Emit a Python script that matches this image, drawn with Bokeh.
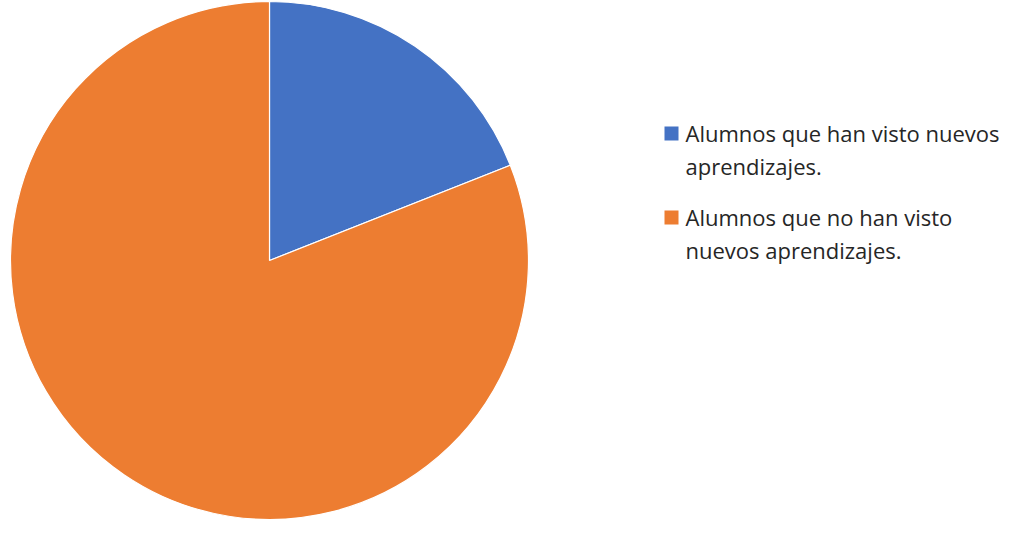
import math
from bokeh.plotting import figure
from bokeh.models import Range1d, ColumnDataSource
from bokeh.core.properties import value
from bokeh.embed import file_html
from bokeh.resources import INLINE

# Data
labels = ["Alumnos que han visto nuevos aprendizajes.",
          "Alumnos que no han visto nuevos aprendizajes."]
legend_lines = [["Alumnos que han visto nuevos", "aprendizajes."],
                ["Alumnos que no han visto", "nuevos aprendizajes."]]
values = [19, 81]
colors = ["#4472C4", "#ED7D31"]

W, H = 1003, 519
p = figure(width=W, height=H, output_backend="svg", toolbar_location=None,
           x_range=Range1d(0, W), y_range=Range1d(0, H),
           min_border=0, outline_line_color=None)
p.axis.visible = False
p.grid.visible = False
p.background_fill_color = "white"
p.border_fill_color = "white"

total = sum(values)
ends, starts = [], []
cum = 0.0
for v in values:
    # clockwise from 12 o'clock
    end = math.pi / 2 - 2 * math.pi * cum / total
    cum += v
    start = math.pi / 2 - 2 * math.pi * cum / total
    starts.append(start)
    ends.append(end)

src = ColumnDataSource(dict(start=starts, end=ends, color=colors, label=labels))
cx, cy, r = 269, H - 260, 259
p.wedge(x=cx, y=cy, radius=r, start_angle="start", end_angle="end",
        fill_color="color", line_color="white", line_width=1.2, source=src)

# Legend (manual); positions given in page pixels from top
square_y = [133, 217]
text_y = [132, 216]
for i, (lines, col) in enumerate(zip(legend_lines, colors)):
    p.rect(x=671, y=H - square_y[i], width=14, height=14, fill_color=col, line_color=None)
    for j, t in enumerate(lines):
        p.text(x=[685], y=[H - (text_y[i] + 33.3 * j)], text=[t],
               text_font=value("Open Sans"), text_font_size="22px",
               text_color="#262626", text_align="left", text_baseline="middle")

open("out.html", "w").write(file_html(p, INLINE))
